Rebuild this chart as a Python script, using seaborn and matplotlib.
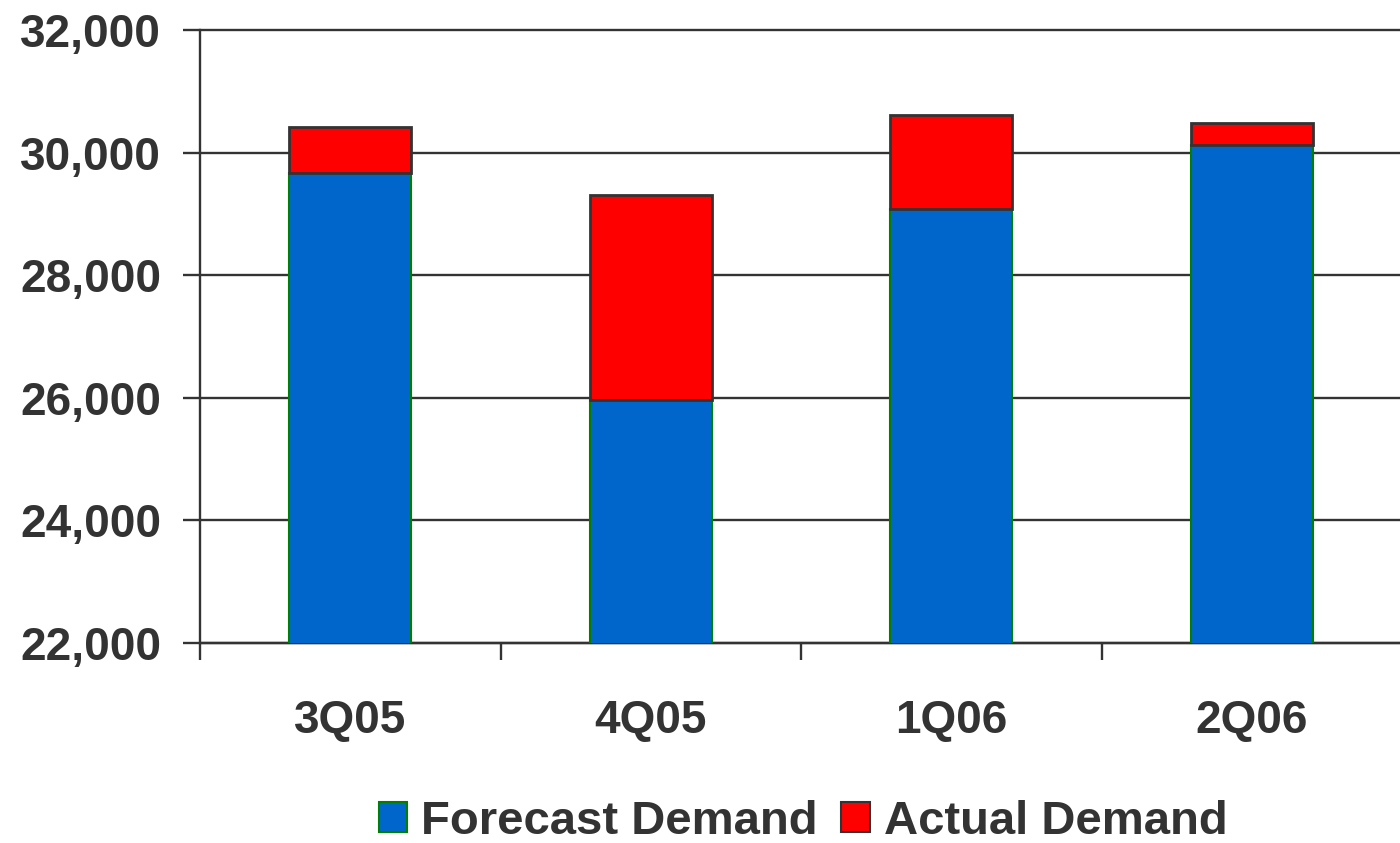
import matplotlib
matplotlib.use("Agg")
import matplotlib.pyplot as plt
import matplotlib.ticker as mticker
from matplotlib.patches import Patch
import seaborn as sns

quarters = ["3Q05", "4Q05", "1Q06", "2Q06"]
forecast_demand = [29670, 25960, 29080, 30120]
actual_demand = [30420, 29310, 30610, 30480]
y_ticks = [22000, 24000, 26000, 28000, 30000, 32000]

BLUE = "#0066CC"
RED = "#FF0000"
INK = "#333333"

sns.set_theme(style="white")
plt.rcParams["font.family"] = ["Liberation Sans", "DejaVu Sans"]
plt.rcParams["font.weight"] = "bold"

fig, ax = plt.subplots(figsize=(14, 8.43), dpi=100)
fig.subplots_adjust(left=200 / 1400, right=1402 / 1400, top=1 - 30 / 843, bottom=1 - 643 / 843)

# red segment spans from forecast up to actual demand
gap = [a - f for a, f in zip(actual_demand, forecast_demand)]

sns.barplot(x=quarters, y=forecast_demand, color=BLUE, saturation=1, width=0.405,
            edgecolor="#008000", linewidth=1.5, ax=ax, zorder=3)
sns.barplot(x=quarters, y=gap, color=RED, saturation=1, width=0.405,
            edgecolor=INK, linewidth=2, bottom=forecast_demand, ax=ax, zorder=3)

ax.set_ylim(22000, 32000)
ax.set_xlim(-0.5, 3.5)
ax.set_yticks(y_ticks)
ax.yaxis.set_major_formatter(mticker.StrMethodFormatter("{x:,.0f}"))
ax.grid(axis="y", color=INK, linewidth=1.7, zorder=0)
ax.set_axisbelow(True)
for gl in ax.get_ygridlines():
    gl.set_clip_on(False)

ax.xaxis.set_minor_locator(mticker.FixedLocator([-0.5, 0.5, 1.5, 2.5]))
ax.tick_params(axis="x", which="major", length=0, pad=40, labelsize=33, labelcolor=INK)
ax.tick_params(axis="x", which="minor", length=12, width=1.7, color=INK, bottom=True)
ax.tick_params(axis="y", which="major", length=12, width=1.7, color=INK, left=True,
               pad=16, labelsize=33, labelcolor=INK)
for lab in ax.get_xticklabels() + ax.get_yticklabels():
    lab.set_fontweight("bold")

for side in ["top", "right"]:
    ax.spines[side].set_visible(False)
for side in ["left", "bottom"]:
    ax.spines[side].set_color(INK)
    ax.spines[side].set_linewidth(1.7)
ax.set_xlabel("")
ax.set_ylabel("")

handles = [Patch(facecolor=BLUE, edgecolor="#008000", linewidth=1.5, label="Forecast Demand"),
           Patch(facecolor=RED, edgecolor=INK, linewidth=1.5, label="Actual Demand")]
leg = fig.legend(handles=handles, loc="center", bbox_to_anchor=(803 / 1400, 1 - 822 / 843),
                 ncol=2, frameon=False, handlelength=0.6, handleheight=0.6,
                 handletextpad=0.3, columnspacing=0.5,
                 prop={"family": "Liberation Sans", "weight": "bold", "size": 34})
for t in leg.get_texts():
    t.set_color(INK)

fig.savefig("out.png", dpi=100)
